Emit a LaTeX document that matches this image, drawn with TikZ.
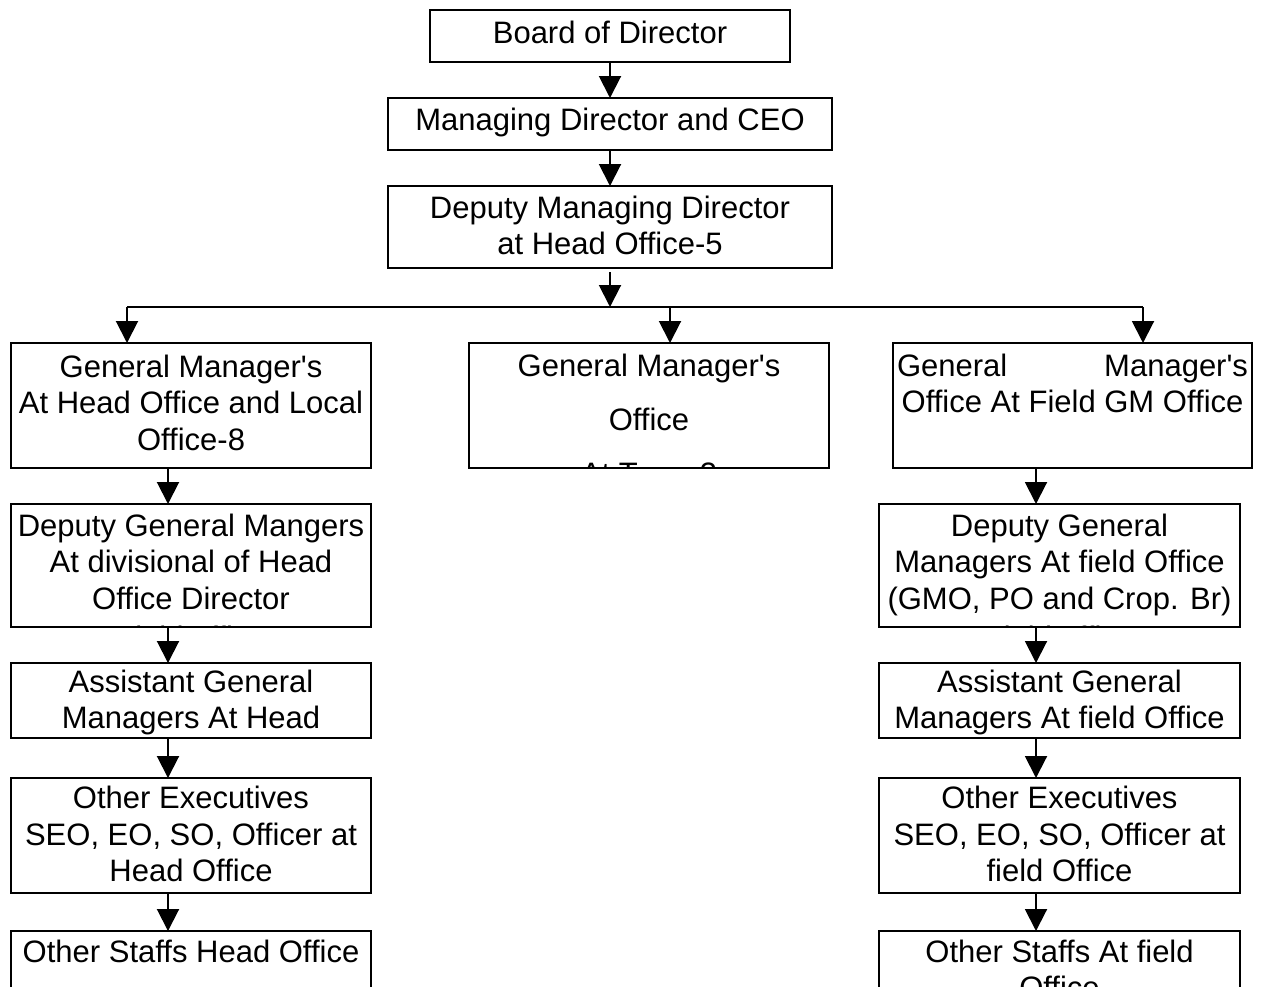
\documentclass[tikz,border=0pt]{standalone}
\usepackage{fontspec}
\setmainfont{Liberation Sans}
\usetikzlibrary{arrows.meta}
\newcommand\bxt[2]{\parbox[t]{#1}{\centering\fontsize{31}{36.5}\selectfont #2}}
\newcommand\apo{\textquotesingle}
\tikzset{
  box/.style={draw, line width=2pt, inner sep=0pt, outer sep=0pt},
  boxtext/.style n args={3}{path picture={\node[anchor=base, inner sep=0pt] at ([yshift=-#1pt]path picture bounding box.north) {\bxt{#2pt}{#3}};}},
  arr/.style={line width=2pt, -{Triangle[width=22pt,length=22pt]}},
  plain/.style={line width=2pt}
}
\begin{document}
\begin{tikzpicture}[x=1pt, y=-1pt]
\useasboundingbox (0,0) rectangle (1263,986);
\clip (0,0) rectangle (1263,986);
\fill[white] (0,0) rectangle (1263,986);

\node[box, minimum width=360pt, minimum height=52pt, boxtext={33}{354}{Board of Director}] (bod) at (610,36) {};
\node[box, minimum width=444pt, minimum height=52pt, boxtext={32}{438}{Managing Director and CEO}] (md) at (610,124) {};
\node[box, minimum width=444pt, minimum height=82pt, boxtext={32}{438}{Deputy Managing Director\\at Head Office-5}] (dmd) at (610,227) {};

\node[box, minimum width=360pt, minimum height=125pt, boxtext={34}{356}{General Manager\apo s\\At Head Office and Local\\Office-8}] (gml) at (191,405.5) {};
\node[box, minimum width=360pt, minimum height=125pt, boxtext={33}{354}{General Manager\apo s\\[17.5pt]Office\\[17.5pt]At Town 3}] (gmm) at (649,405.5) {};
\node[box, minimum width=359pt, minimum height=125pt, boxtext={33}{351}{General\hfill Manager\apo s\\Office At Field GM Office}] (gmr) at (1072.5,405.5) {};

\node[box, minimum width=360pt, minimum height=123pt, boxtext={32}{356}{Deputy General Mangers\\At divisional of Head\\Office Director\\[3pt]Field office}] (dgml) at (191,565.5) {};
\node[box, minimum width=361pt, minimum height=123pt, boxtext={32}{357}{Deputy General\\Managers At field Office\\(GMO, PO and Crop. Br)\\[3pt]Field office}] (dgmr) at (1059.5,565.5) {};

\node[box, minimum width=360pt, minimum height=75pt, boxtext={29}{356}{Assistant General\\Managers At Head\\Office}] (agml) at (191,700.5) {};
\node[box, minimum width=361pt, minimum height=75pt, boxtext={29}{357}{Assistant General\\Managers At field Office}] (agmr) at (1059.5,700.5) {};

\node[box, minimum width=360pt, minimum height=115pt, boxtext={30.5}{356}{Other Executives\\SEO, EO, SO, Officer at\\Head Office}] (oel) at (191,835.5) {};
\node[box, minimum width=361pt, minimum height=115pt, boxtext={30.5}{357}{Other Executives\\SEO, EO, SO, Officer at\\field Office}] (oer) at (1059.5,835.5) {};

\node[box, minimum width=360pt, minimum height=90pt, boxtext={31}{356}{Other Staffs Head Office}] (osl) at (191,976) {};
\node[box, minimum width=361pt, minimum height=90pt, boxtext={31}{357}{Other Staffs At field\\Office}] (osr) at (1059.5,976) {};

\coordinate (hl) at (127,307);
\coordinate (hm) at (670,307);
\coordinate (hr) at (1143,307);
\coordinate (xl) at (168,0);
\coordinate (xr) at (1036,0);

\draw[arr] (bod.south) -- (md.north);
\draw[arr] (md.south) -- (dmd.north);
\draw[arr, shorten <=4pt] (dmd.south) -- (dmd.south |- hl);
\draw[plain] (hl) -- (hr);
\draw[arr] (hl) -- (gml.north -| hl);
\draw[arr] (hm) -- (gmm.north -| hm);
\draw[arr] (hr) -- (gmr.north -| hr);

\draw[arr] (gml.south -| xl) -- (dgml.north -| xl);
\draw[arr] (dgml.south -| xl) -- (agml.north -| xl);
\draw[arr] (agml.south -| xl) -- (oel.north -| xl);
\draw[arr] (oel.south -| xl) -- (osl.north -| xl);

\draw[arr] (gmr.south -| xr) -- (dgmr.north -| xr);
\draw[arr] (dgmr.south -| xr) -- (agmr.north -| xr);
\draw[arr] (agmr.south -| xr) -- (oer.north -| xr);
\draw[arr] (oer.south -| xr) -- (osr.north -| xr);
\end{tikzpicture}
\end{document}
